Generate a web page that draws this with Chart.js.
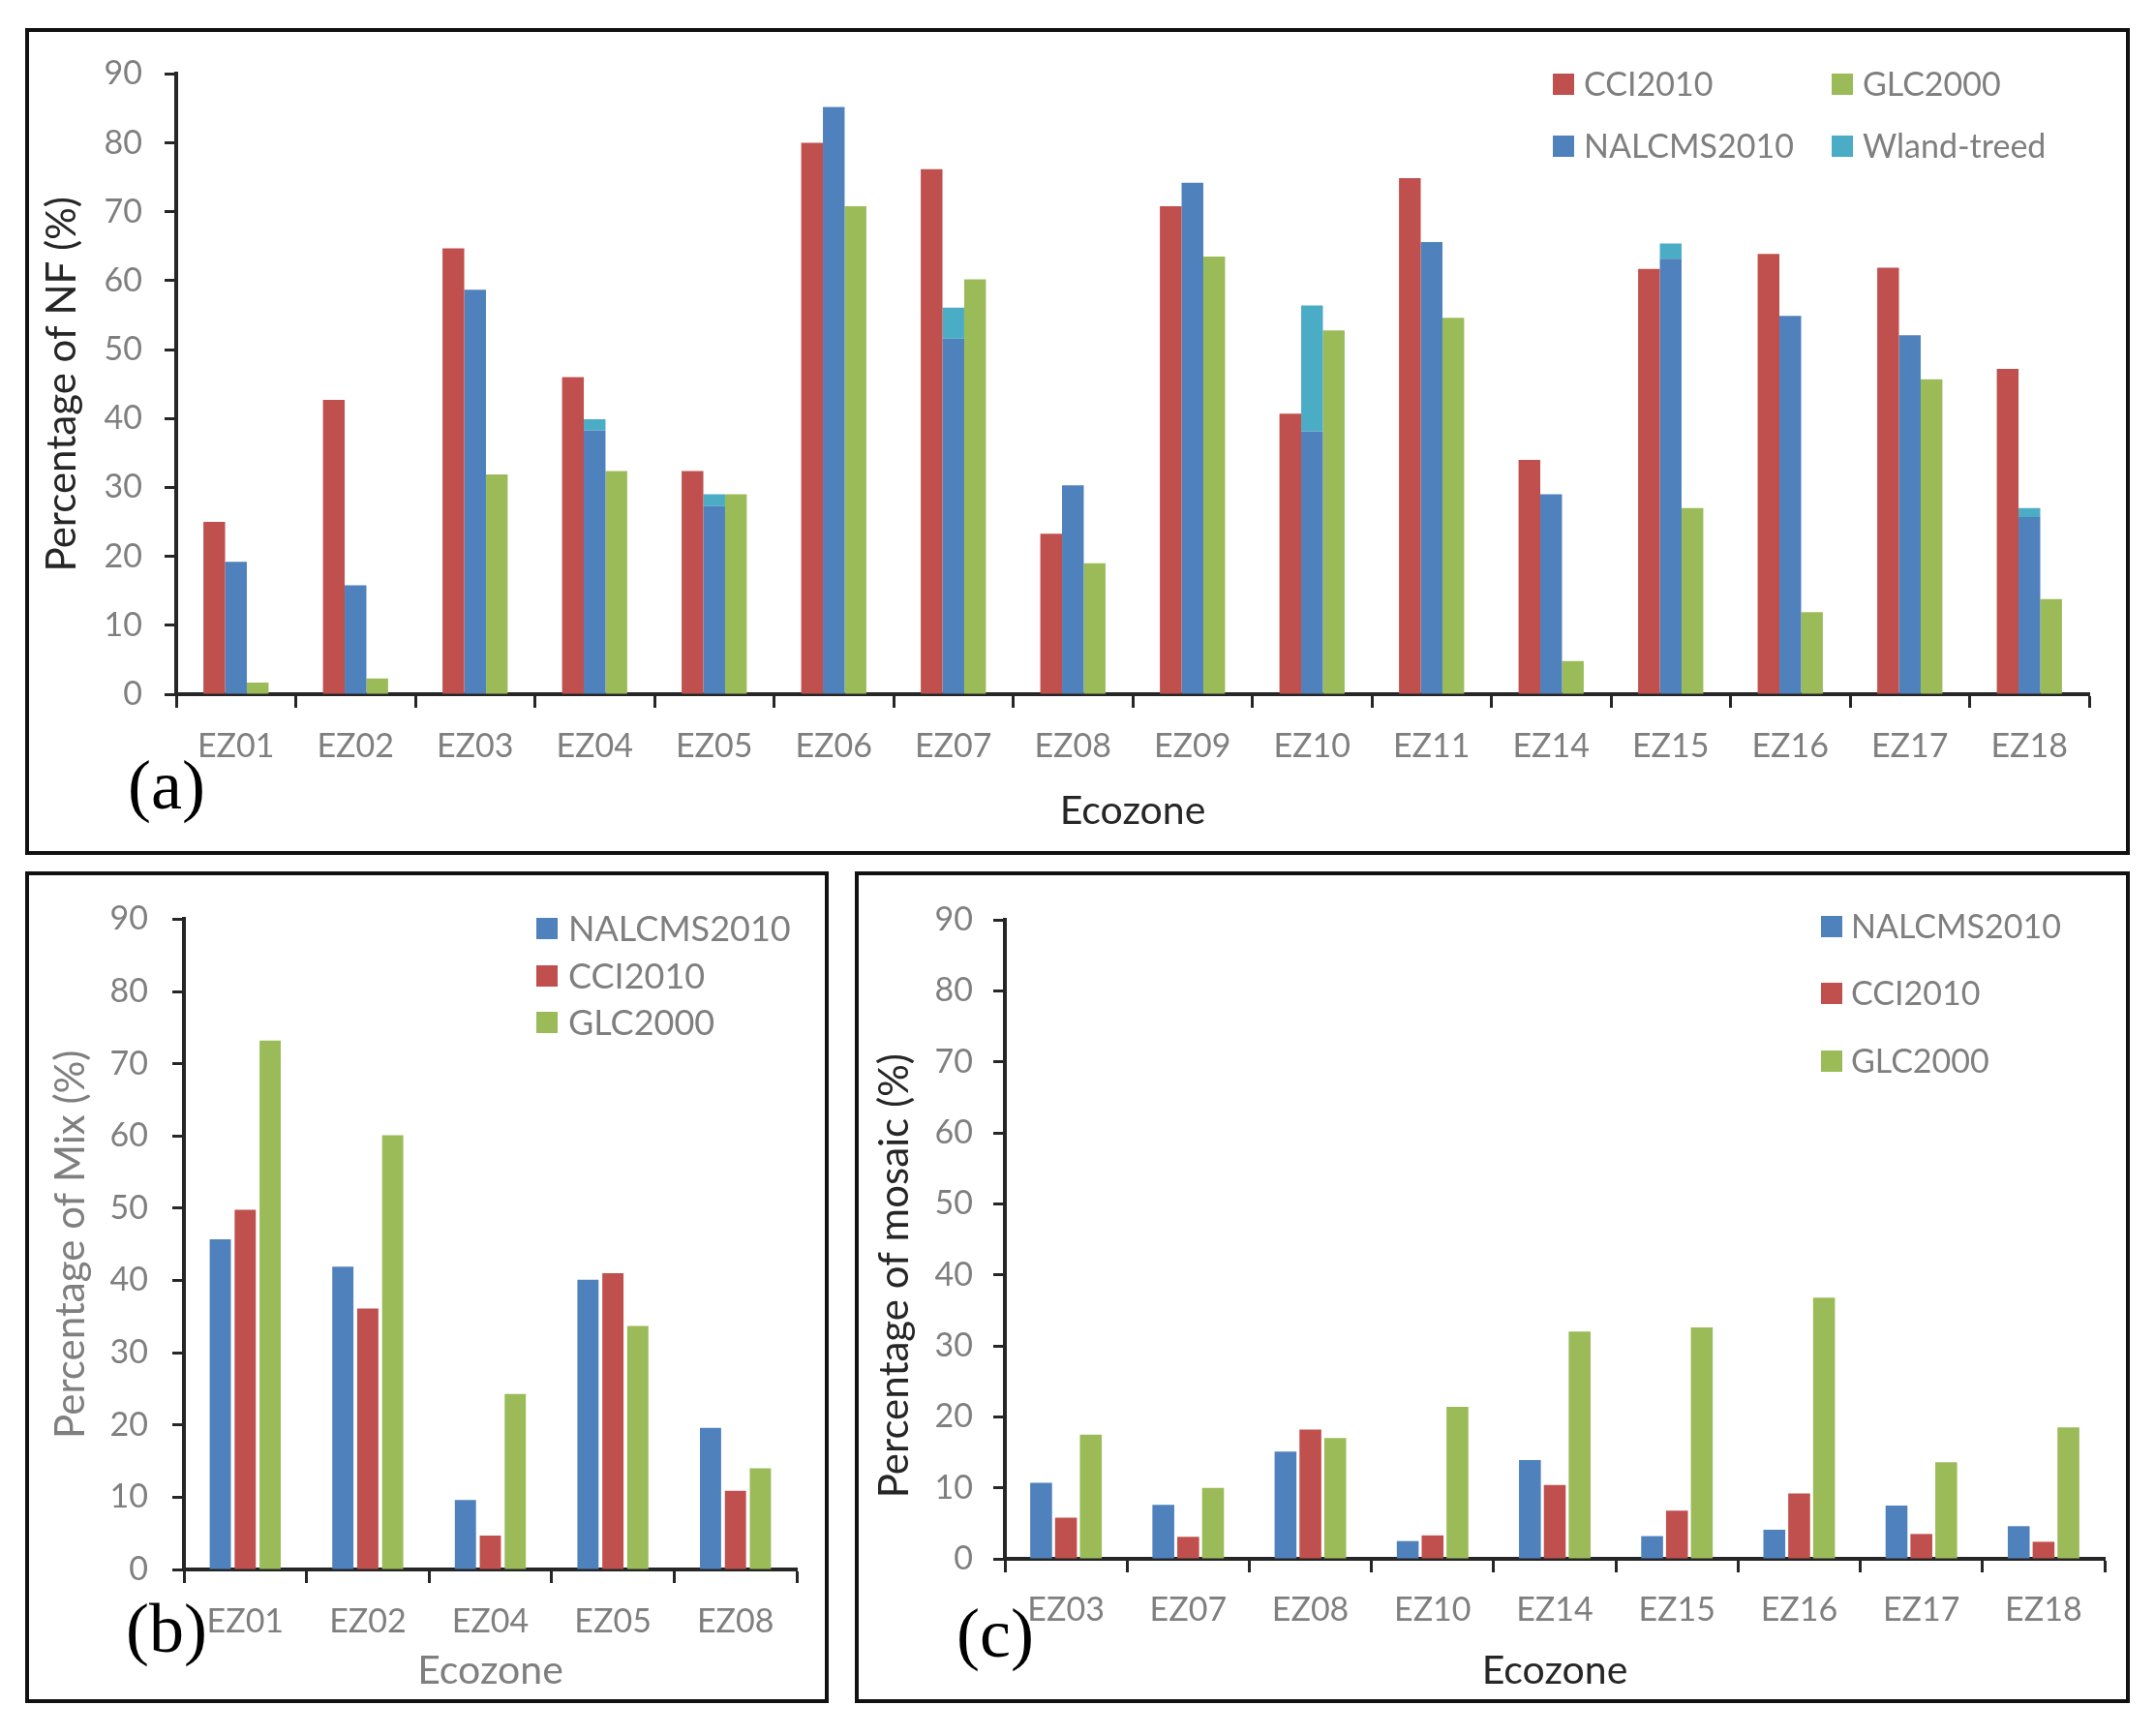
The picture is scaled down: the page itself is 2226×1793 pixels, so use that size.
<!DOCTYPE html>
<html><head><meta charset="utf-8">
<script src="https://cdn.jsdelivr.net/npm/chart.js@4.4.0/dist/chart.umd.min.js"></script>
<style>
html,body{margin:0;padding:0;background:#fff;}
body{width:2226px;height:1793px;position:relative;overflow:hidden;font-family:Lato,sans-serif;}
.frame{position:absolute;box-sizing:border-box;border:4px solid #111;}
.cv{position:absolute;}
.cv canvas{display:block;}
.tag{position:absolute;font-family:"Liberation Serif","Times New Roman",serif;font-size:72px;line-height:72px;color:#000;white-space:nowrap;}
</style></head><body>
<div class="frame" style="left:26px;top:29px;width:2174px;height:854px"></div>
<div class="frame" style="left:26px;top:900px;width:830px;height:859px"></div>
<div class="frame" style="left:883px;top:900px;width:1317px;height:859px"></div>
<div class="cv" style="left:30px;top:33px;"><canvas id="ca" width="2166" height="846" style="width:2166px;height:846px"></canvas></div>
<div class="cv" style="left:30px;top:904px;"><canvas id="cb" width="822" height="851" style="width:822px;height:851px"></canvas></div>
<div class="cv" style="left:887px;top:904px;"><canvas id="cc" width="1309" height="851" style="width:1309px;height:851px"></canvas></div>
<div class="tag" style="left:132px;top:775px">(a)</div>
<div class="tag" style="left:130px;top:1646px">(b)</div>
<div class="tag" style="left:988px;top:1651px">(c)</div>
<script>
// ---------- DATA ----------
const nfCategories = ['EZ01','EZ02','EZ03','EZ04','EZ05','EZ06','EZ07','EZ08','EZ09','EZ10','EZ11','EZ14','EZ15','EZ16','EZ17','EZ18'];
const nfCCI2010     = [25.0,42.7,64.7,46.0,32.4,80.0,76.2,23.3,70.8,40.7,74.9,34.0,61.7,63.9,61.9,47.2];
const nfNALCMS2010  = [19.2,15.8,58.7,38.3,27.3,85.2,51.6,30.3,74.2,38.1,65.6,29.0,63.2,54.9,52.1,25.7];
const nfWlandTreed  = [0,0,0,1.6,1.7,0,4.5,0,0,18.3,0,0,2.2,0,0,1.3];
const nfGLC2000     = [1.7,2.3,31.9,32.4,29.0,70.8,60.2,19.0,63.5,52.8,54.6,4.8,27.0,11.9,45.7,13.8];

const mixCategories = ['EZ01','EZ02','EZ04','EZ05','EZ08'];
const mixNALCMS2010 = [45.7,41.9,9.6,40.1,19.6];
const mixCCI2010    = [49.8,36.1,4.7,41.0,10.9];
const mixGLC2000    = [73.2,60.1,24.3,33.7,14.0];

const mosCategories = ['EZ03','EZ07','EZ08','EZ10','EZ14','EZ15','EZ16','EZ17','EZ18'];
const mosNALCMS2010 = [10.7,7.6,15.1,2.5,13.9,3.2,4.1,7.5,4.6];
const mosCCI2010    = [5.8,3.1,18.2,3.3,10.4,6.8,9.2,3.5,2.4];
const mosGLC2000    = [17.5,10.0,17.0,21.4,32.0,32.6,36.8,13.6,18.5];

const yTickMin = 0, yTickMax = 90, yTickStep = 10;

// ---------- STYLE ----------
const RED = '#C0504D', BLUE = '#4F81BD', GREEN = '#9BBB59', CYAN = '#4BACC6';
const AXIS = '#262626', TICK = '#7f7f7f', DARK = '#262626';
const FONT = 'Lato';
const TITLE_SIZE = 42;

const boxLegend = {
  id: 'boxLegend',
  afterDraw(chart, args, opts) {
    if (!opts || !opts.items) return;
    const ctx = chart.ctx;
    ctx.save();
    ctx.font = opts.fontSize + 'px ' + FONT;
    ctx.textBaseline = 'middle';
    ctx.textAlign = 'left';
    opts.items.forEach(it => {
      const ds = chart.data.datasets[it.index];
      const s = opts.box;
      ctx.fillStyle = ds.backgroundColor;
      ctx.fillRect(it.x, it.y - s / 2, s, s);
      ctx.fillStyle = opts.color;
      ctx.fillText(ds.label, it.x + s + opts.gap, it.y + 1);
    });
    ctx.restore();
  }
};

// trailing spaces used to nudge a rotated axis title along the axis by `shift` px
function padTitle(text, shift) {
  if (!shift) return text;
  const c = document.createElement('canvas').getContext('2d');
  c.font = TITLE_SIZE + 'px ' + FONT;
  const sw = c.measureText(' ').width || 10;
  return text + ' '.repeat(Math.max(0, Math.round(2 * shift / sw)));
}

function buildChart(id, cats, datasets, g) {
  return new Chart(document.getElementById(id), {
    type: 'bar',
    data: { labels: cats, datasets: datasets },
    options: {
      responsive: false,
      animation: false,
      layout: { padding: { top: g.padTop, right: g.padRight, left: 0, bottom: 0 } },
      datasets: { bar: { categoryPercentage: g.catPct, barPercentage: g.barPct, borderWidth: 0 } },
      plugins: {
        legend: { display: false },
        tooltip: { enabled: false },
        boxLegend: g.legend
      },
      scales: {
        x: {
          stacked: g.stacked,
          grid: { offset: true, drawOnChartArea: false, drawTicks: true, tickLength: 14, tickWidth: 3, tickColor: AXIS },
          border: { display: true, color: AXIS, width: 4 },
          ticks: { font: { family: FONT, size: 34 }, color: TICK, padding: g.xTickPad, maxRotation: 0, autoSkip: false },
          title: { display: true, text: 'Ecozone', font: { family: FONT, size: 41 }, color: g.titleColor, padding: { top: 0, bottom: g.xTitlePad } },
          afterFit(s) { s.height = g.xHeight; }
        },
        y: {
          stacked: g.stacked,
          min: yTickMin, max: yTickMax,
          grid: { drawOnChartArea: false, drawTicks: true, tickLength: 12, tickWidth: 3, tickColor: AXIS },
          border: { display: true, color: AXIS, width: 4 },
          ticks: { stepSize: yTickStep, font: { family: FONT, size: 34 }, color: TICK, padding: g.yTickPad },
          title: { display: true, text: padTitle(g.yTitle, g.yTitleShift), font: { family: FONT, size: TITLE_SIZE }, color: g.titleColor, padding: { top: g.yTitlePad, bottom: 0 } },
          afterFit(s) { s.width = g.yWidth; }
        }
      }
    },
    plugins: [boxLegend]
  });
}

function draw() {
  buildChart('ca', nfCategories, [
    { label: 'CCI2010', data: nfCCI2010, backgroundColor: RED, stack: 's1' },
    { label: 'NALCMS2010', data: nfNALCMS2010, backgroundColor: BLUE, stack: 's2' },
    { label: 'Wland-treed', data: nfWlandTreed, backgroundColor: CYAN, stack: 's2' },
    { label: 'GLC2000', data: nfGLC2000, backgroundColor: GREEN, stack: 's3' }
  ], {
    stacked: true, padTop: 40, padRight: 38, yWidth: 152, xHeight: 162,
    catPct: 0.545, barPct: 1.0, xTickPad: 20, yTickPad: 23, xTitlePad: 17, yTitlePad: 9,
    titleColor: DARK, yTitle: 'Percentage of NF (%)', yTitleShift: 0,
    legend: { fontSize: 34, box: 22, gap: 10, color: TICK, items: [
      { index: 0, x: 1574, y: 54 }, { index: 3, x: 1862, y: 54 },
      { index: 1, x: 1574, y: 118 }, { index: 2, x: 1862, y: 118 }
    ] }
  });

  buildChart('cb', mixCategories, [
    { label: 'NALCMS2010', data: mixNALCMS2010, backgroundColor: BLUE },
    { label: 'CCI2010', data: mixCCI2010, backgroundColor: RED },
    { label: 'GLC2000', data: mixGLC2000, backgroundColor: GREEN }
  ], {
    stacked: false, padTop: 44, padRight: 29, yWidth: 160, xHeight: 134,
    catPct: 0.61, barPct: 0.85, xTickPad: 20, yTickPad: 25, xTitlePad: 5, yTitlePad: 18,
    titleColor: TICK, yTitle: 'Percentage of Mix (%)', yTitleShift: 0,
    legend: { fontSize: 36, box: 22, gap: 11, color: TICK, items: [
      { index: 0, x: 524, y: 55 }, { index: 1, x: 524, y: 104 }, { index: 2, x: 524, y: 152 }
    ] }
  });

  buildChart('cc', mosCategories, [
    { label: 'NALCMS2010', data: mosNALCMS2010, backgroundColor: BLUE },
    { label: 'CCI2010', data: mosCCI2010, backgroundColor: RED },
    { label: 'GLC2000', data: mosGLC2000, backgroundColor: GREEN }
  ], {
    stacked: false, padTop: 46, padRight: 22, yWidth: 151, xHeight: 145,
    catPct: 0.61, barPct: 0.88, xTickPad: 19, yTickPad: 21, xTitlePad: 5, yTitlePad: 12,
    titleColor: DARK, yTitle: 'Percentage of mosaic (%)', yTitleShift: 35,
    legend: { fontSize: 34, box: 22, gap: 9, color: TICK, items: [
      { index: 0, x: 994, y: 53 }, { index: 1, x: 994, y: 122 }, { index: 2, x: 994, y: 192 }
    ] }
  });
}

const fontsReady = document.fonts ? Promise.all([
  document.fonts.load('34px Lato'), document.fonts.load('42px Lato'), document.fonts.load('72px "Liberation Serif"')
]).catch(() => {}) : Promise.resolve();
let drawn = false;
function go() { if (!drawn) { drawn = true; draw(); } }
fontsReady.then(go);
setTimeout(go, 1500);
</script>
</body></html>
